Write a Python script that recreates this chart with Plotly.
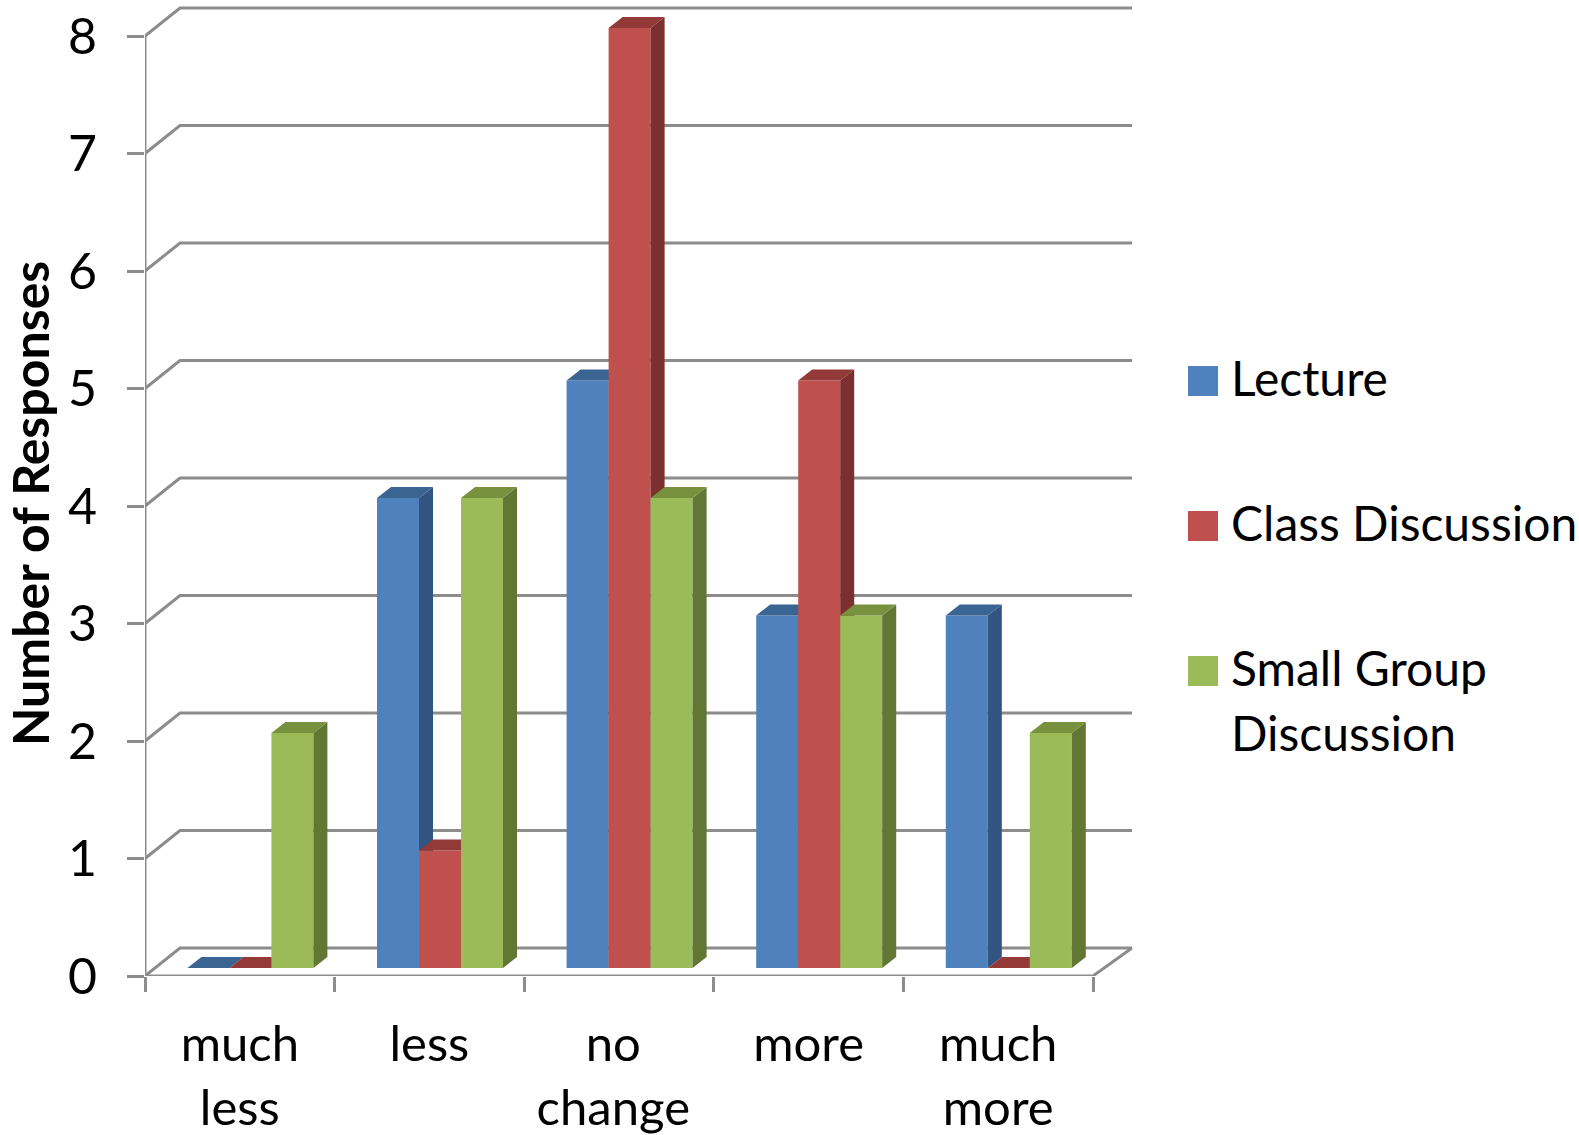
import plotly.graph_objects as go

categories = ["much<br>less", "less", "no<br>change", "more", "much<br>more"]
lecture = [0, 4, 5, 3, 3]
class_discussion = [0, 1, 8, 5, 0]
small_group = [2, 4, 4, 3, 2]
y_ticks = [0, 1, 2, 3, 4, 5, 6, 7, 8]
series_names = ["Lecture", "Class Discussion", "Small Group<br>Discussion"]

W, H = 1579, 1135
L, T, R_PX, B_PX = 145, 5, 1135, 976
UX, UY = 189.6, 117.5
FONT = "Lato, Carlito, Calibri, sans-serif"
GRID = "#8c8c8c"

front = ["#4F81BD", "#C0504D", "#9BBB59"]
top_c = ["#3A6491", "#933A38", "#78913F"]
side_c = ["#325480", "#7B2F2E", "#637735"]
values = [lecture, class_discussion, small_group]

x_max = (R_PX - L) / UX
y_max = (B_PX - T) / UY
wall_dx, wall_dy = 35 / UX, 28 / UY
wall_end = 39 / UX
bar_w = 42 / UX
bar_start = 42.4 / UX
bar_base = 8 / UY
dep_dx, dep_dy = 14 / UX, 11 / UY
n = len(categories)

fig = go.Figure()

# walls, floor and gridlines
gx, gy = [], []
for t in y_ticks:
    gx += [0, wall_dx, n + wall_end, None]
    gy += [t, t + wall_dy, t + wall_dy, None]
gx += [0, 0, None, 0, n, n + wall_end]
gy += [y_ticks[0], y_ticks[-1], None, 0, 0, wall_dy]
fig.add_trace(go.Scatter(x=gx, y=gy, mode="lines", cliponaxis=False, showlegend=False,
                         hoverinfo="skip", line=dict(color=GRID, width=3)))

for s, vals in enumerate(values):
    ax = str(s + 2)
    centers = [i + bar_start + bar_w * (s + 0.5) for i in range(n)]
    fig.add_trace(go.Bar(x=centers, y=vals, base=bar_base, width=bar_w, name=series_names[s],
                         marker=dict(color=front[s], line=dict(width=0)),
                         xaxis="x" + ax, yaxis="y" + ax, showlegend=False))
    sx, sy, tx, ty = [], [], [], []
    for c, v in zip(centers, vals):
        xl, xr = c - bar_w / 2, c + bar_w / 2
        b, t = bar_base, bar_base + v
        sx += [xr, xr + dep_dx, xr + dep_dx, xr, xr, None]
        sy += [b, b + dep_dy, t + dep_dy, t, b, None]
        tx += [xl, xl + dep_dx, xr + dep_dx, xr, xl, None]
        ty += [t, t + dep_dy, t + dep_dy, t, t, None]
    for px, py, col in ((sx, sy, side_c[s]), (tx, ty, top_c[s])):
        fig.add_trace(go.Scatter(x=px, y=py, mode="lines", fill="toself", fillcolor=col,
                                 line=dict(width=0, color=col), showlegend=False, hoverinfo="skip",
                                 xaxis="x" + ax, yaxis="y" + ax))

layout = dict(
    width=W, height=H, paper_bgcolor="white", plot_bgcolor="white", showlegend=False,
    margin=dict(l=L, r=W - R_PX, t=T, b=H - B_PX, pad=0), barmode="overlay",
    font=dict(family=FONT, color="black"),
    xaxis=dict(range=[0, x_max], tickmode="array", automargin=False,
               tickvals=[0.5, 1.5, 2.47, 3.5, 4.5], ticktext=categories,
               tickfont=dict(size=49), ticks="", showgrid=False, zeroline=False, showline=False,
               ticklabelstandoff=35,
               minor=dict(tickmode="array", tickvals=list(range(n + 1)), ticks="outside",
                          ticklen=15, tickwidth=3, tickcolor=GRID, showgrid=False)),
    yaxis=dict(range=[0, y_max], tickmode="array", tickvals=y_ticks, automargin=False,
               tickfont=dict(size=50), ticks="outside", ticklen=17, tickwidth=3, tickcolor=GRID,
               showgrid=False, zeroline=False, showline=False, ticklabelstandoff=20),
)
for s in range(3):
    ax = str(s + 2)
    layout["xaxis" + ax] = dict(range=[0, x_max], overlaying="x", visible=False, automargin=False)
    layout["yaxis" + ax] = dict(range=[0, y_max], overlaying="y", visible=False, automargin=False)
fig.update_layout(**layout)

pw, ph = R_PX - L, B_PX - T
def xp(p): return (p - L) / pw
def yp(p): return (B_PX - p) / ph

fig.add_annotation(text="<b>Number of Responses</b>", xref="paper", yref="paper",
                   x=xp(30), y=yp(504), textangle=-90, showarrow=False,
                   font=dict(size=50, color="black", family=FONT), xanchor="center", yanchor="middle")

swatch_tops = [366, 511, 656]
LINE_GAP = 65
for name, col, st in zip(series_names, front, swatch_tops):
    fig.add_shape(type="rect", xref="paper", yref="paper", x0=xp(1188), x1=xp(1218),
                  y0=yp(st), y1=yp(st + 30), fillcolor=col, line=dict(width=0), layer="above")
    for k, line in enumerate(name.split("<br>")):
        fig.add_annotation(text=line, xref="paper", yref="paper", x=xp(1229), y=yp(st - 19 + k * LINE_GAP),
                           showarrow=False, xanchor="left", yanchor="top", align="left",
                           font=dict(size=48, color="black", family=FONT))

fig.write_html("out.html", post_script="document.body.style.margin='0';",
               config={"displayModeBar": False})
